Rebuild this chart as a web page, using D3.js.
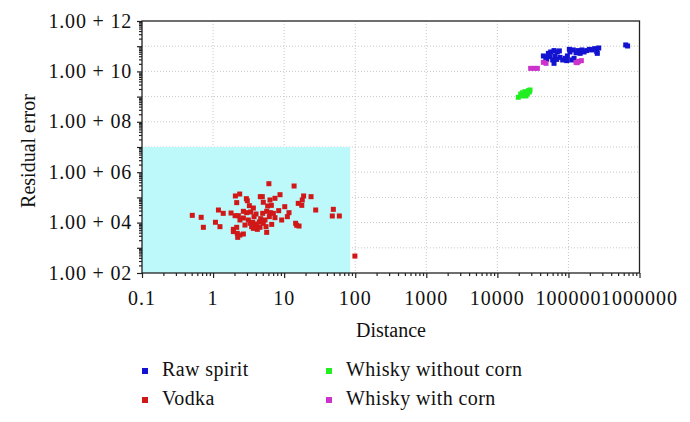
<!DOCTYPE html>
<html>
<head>
<meta charset="utf-8">
<script src="https://cdn.jsdelivr.net/npm/d3@7"></script>
<style>
  html, body { margin: 0; padding: 0; background: #fff; }
  svg { display: block; }
  text { font-family: "Liberation Serif", "DejaVu Serif", serif; fill: #111; }
</style>
</head>
<body>
<svg id="chart" width="690" height="422"></svg>
<script>
// ---- Data ----
const xTickValues = [0.1, 1, 10, 100, 1000, 10000, 100000, 1000000];
const xTickLabels = ["0.1", "1", "10", "100", "1000", "10000", "100000", "1000000"];
const yTickValues = [1e2, 1e4, 1e6, 1e8, 1e10, 1e12];
const yTickLabels = ["1.00 + 02", "1.00 + 04", "1.00 + 06", "1.00 + 08", "1.00 + 10", "1.00 + 12"];
const xDomain = [0.1, 1000000];
const yDomain = [1e2, 1e12];
const shadedX = [0.1, 85];
const shadedY = [1e2, 1e7];

const seriesNames = ["Raw spirit", "Vodka", "Whisky without corn", "Whisky with corn"];
const seriesColors = ["#1212d0", "#d01818", "#22ee22", "#cc33cc"];

const rawSpirit = [
  [4.44e4, 4.1e10], [4.79e4, 3.6e10], [5.22e4, 5.2e10], [5.63e4, 5.9e10], [6.27e4, 6.7e10],
  [6.98e4, 5.9e10], [7.45e4, 6.5e10], [6.47e4, 4.1e10], [6.0e4, 2.84e10], [6.27e4, 2.09e10],
  [7.62e4, 3.6e10], [8.3e4, 2.84e10], [9.05e4, 3.3e10], [9.66e4, 4.1e10], [1.05e5, 5.9e10],
  [1.03e5, 7.5e10], [1.17e5, 7.1e10], [1.28e5, 5.5e10], [1.36e5, 6.7e10], [1.46e5, 5.2e10],
  [1.55e5, 7.1e10], [1.66e5, 5.9e10], [1.81e5, 6.7e10], [1.97e5, 7.5e10], [2.15e5, 7.1e10],
  [2.34e5, 8.0e10], [2.5e5, 6.1e10], [2.67e5, 8.5e10], [2.55e5, 5.2e10], [1.11e5, 2.84e10],
  [1.2e5, 3.3e10], [6.84e4, 3.0e10], [5.5e4, 3.85e10], [4.94e4, 3.0e10], [9.46e4, 2.67e10],
  [6.4e5, 1.12e11], [6.8e5, 1.02e11]
];
const vodka = [
  [6.1, 3.5e5], [13.8, 2.83e5], [2.37, 1.36e5], [2.06, 1.14e5], [2.94, 8.9e4], [3.03, 7.4e4],
  [4.62, 1.07e5], [4.93, 1.07e5], [8.75, 1.28e5], [7.43, 9.2e4], [6.32, 7.9e4], [18.8, 1.14e5],
  [18.0, 7.9e4], [23.9, 1.07e5], [2.15, 6.2e4], [5.09, 6.4e4], [5.86, 4.56e4], [6.61, 4.84e4],
  [15.8, 5.8e4], [17.7, 4.84e4], [10.2, 4.28e4], [3.24, 4.7e4], [1.19, 3.16e4], [1.39, 2.33e4],
  [0.51, 1.94e4], [0.68, 1.62e4], [27.8, 3.16e4], [49.2, 3.36e4], [47.6, 1.83e4], [59.8, 1.83e4],
  [1.79, 2.4e4], [2.04, 1.88e4], [2.27, 1.88e4], [2.67, 2.8e4], [2.97, 2.48e4], [3.38, 2.64e4],
  [3.69, 3.79e4], [4.02, 2.19e4], [4.99, 2.33e4], [5.68, 2.8e4], [6.39, 2.48e4], [7.05, 2.33e4],
  [8.38, 2.98e4], [11.7, 2.48e4], [2.67, 1.52e4], [3.13, 1.27e4], [3.77, 1.72e4], [4.68, 1.43e4],
  [5.38, 1.27e4], [6.19, 1.72e4], [7.43, 1.57e4], [9.23, 1.27e4], [11.1, 1.72e4], [1.08, 1.03e4],
  [1.25, 6.9e3], [0.73, 6.5e3], [2.39, 1.27e4], [2.81, 8.0e3], [3.31, 9.4e3], [3.61, 1.03e4],
  [3.89, 8.8e3], [4.10, 7.3e3], [4.48, 1.06e4], [4.83, 1.09e4], [5.09, 9.4e3], [3.69, 5.9e3],
  [4.20, 5.4e3], [4.57, 6.5e3], [3.49, 6.9e3], [5.56, 6.9e3], [6.68, 8.5e3], [14.5, 9.4e3],
  [15.0, 7.8e3], [16.2, 7.3e3], [1.93, 5.4e3], [2.15, 6.5e3], [1.93, 4.4e3], [2.19, 3.75e3],
  [2.67, 3.53e3], [2.39, 3.22e3], [2.22, 2.6e3], [5.68, 4.1e3], [99, 470]
];
const whiskyWithoutCorn = [
  [1.97e4, 9.4e8], [2.13e4, 1.27e9], [2.27e4, 1.43e9], [2.45e4, 1.57e9], [2.59e4, 1.35e9],
  [2.73e4, 1.72e9], [2.88e4, 1.83e9], [2.37e4, 1.16e9], [2.53e4, 1.06e9], [2.64e4, 1.27e9],
  [2.2e4, 1.06e9], [2.82e4, 1.52e9]
];
const whiskyWithCorn = [
  [2.94e4, 1.32e10], [3.3e4, 1.32e10], [3.66e4, 1.32e10], [4.44e4, 2.29e10], [4.84e4, 2.09e10],
  [1.28e5, 2.29e10], [1.39e5, 2.51e10], [1.52e5, 2.67e10], [1.33e5, 2.22e10]
];
const seriesData = [rawSpirit, vodka, whiskyWithoutCorn, whiskyWithCorn];

// ---- Layout ----
const svg = d3.select("#chart");
const mLeft = 142, mRight = 639.5, mTop = 21, mBottom = 273;

const x = d3.scaleLog().domain(xDomain).range([mLeft, mRight]);
const y = d3.scaleLog().domain(yDomain).range([mBottom, mTop]);

function minorTicks(domain) {
  const out = [];
  const lo = Math.round(Math.log10(domain[0])), hi = Math.round(Math.log10(domain[1]));
  for (let e = lo; e < hi; e++) {
    for (let k = 2; k <= 9; k++) out.push(k * Math.pow(10, e));
  }
  return out;
}
function decades(domain) {
  const out = [];
  const lo = Math.round(Math.log10(domain[0])), hi = Math.round(Math.log10(domain[1]));
  for (let e = lo; e <= hi; e++) out.push(Math.pow(10, e));
  return out;
}

// grid
const grid = svg.append("g").attr("stroke", "#c8c8c8").attr("stroke-width", 1).attr("stroke-dasharray", "1,2");
decades(xDomain).slice(1, -1).forEach(v => {
  grid.append("line").attr("x1", x(v)).attr("x2", x(v)).attr("y1", mTop).attr("y2", mBottom);
});
decades(yDomain).slice(1, -1).forEach(v => {
  grid.append("line").attr("x1", mLeft).attr("x2", mRight).attr("y1", y(v)).attr("y2", y(v));
});

// shaded region
svg.append("rect")
  .attr("x", x(shadedX[0])).attr("y", y(shadedY[1]))
  .attr("width", x(shadedX[1]) - x(shadedX[0]))
  .attr("height", y(shadedY[0]) - y(shadedY[1]))
  .attr("fill", "#bdf8fa");

// points
const pts = svg.append("g");
seriesData.forEach((data, i) => {
  pts.selectAll(null).data(data).enter().append("rect")
    .attr("x", d => x(d[0]) - 2.5)
    .attr("y", d => y(d[1]) - 2.5)
    .attr("width", 5).attr("height", 5)
    .attr("fill", seriesColors[i]);
});

// frame
svg.append("rect").attr("x", mLeft).attr("y", mTop).attr("width", mRight - mLeft).attr("height", mBottom - mTop)
  .attr("fill", "none").attr("stroke", "#222").attr("stroke-width", 1.3);

// x axis ticks
const xAxisG = svg.append("g").attr("transform", `translate(0,${mBottom})`);
xAxisG.call(d3.axisBottom(x).tickValues(minorTicks(xDomain)).tickSize(3).tickFormat(""));
xAxisG.append("g").call(d3.axisBottom(x).tickValues(decades(xDomain)).tickSize(5).tickFormat(""));
xAxisG.selectAll(".domain").remove();
xAxisG.selectAll("line").attr("stroke", "#222").attr("stroke-width", 1.2);

svg.append("g").selectAll("text").data(xTickValues).enter().append("text")
  .attr("x", d => x(d)).attr("y", 305)
  .attr("text-anchor", "middle")
  .style("font-size", "20px").style("letter-spacing", "1px")
  .text((d, i) => xTickLabels[i]);

// y axis ticks
const yAxisG = svg.append("g").attr("transform", `translate(${mLeft},0)`);
yAxisG.call(d3.axisLeft(y).tickValues(minorTicks(yDomain)).tickSize(3).tickFormat(""));
yAxisG.append("g").call(d3.axisLeft(y).tickValues(decades(yDomain)).tickSize(5).tickFormat(""));
yAxisG.selectAll(".domain").remove();
yAxisG.selectAll("line").attr("stroke", "#222").attr("stroke-width", 1.2);

svg.append("g").selectAll("text").data(yTickValues).enter().append("text")
  .attr("x", 132).attr("y", d => y(d) + 6.5)
  .attr("text-anchor", "end")
  .style("font-size", "20px").style("letter-spacing", "0.8px")
  .text((d, i) => yTickLabels[i]);

// axis titles
svg.append("text").attr("x", 391).attr("y", 337).attr("text-anchor", "middle")
  .style("font-size", "20px").text("Distance");
svg.append("text").attr("transform", "translate(35,151) rotate(-90)").attr("text-anchor", "middle")
  .style("font-size", "20px").text("Residual error");

// legend
const legendPos = [[145, 371], [145, 400], [329, 371], [329, 400]];
const legend = svg.append("g");
seriesNames.forEach((name, i) => {
  const [lx, ly] = legendPos[i];
  legend.append("rect").attr("x", lx - 3).attr("y", ly - 3).attr("width", 6).attr("height", 6)
    .attr("fill", seriesColors[i]);
  legend.append("text").attr("x", lx + 17).attr("y", ly + 5)
    .style("font-size", "20px").style("letter-spacing", "0.4px").text(name);
});
</script>
</body>
</html>
